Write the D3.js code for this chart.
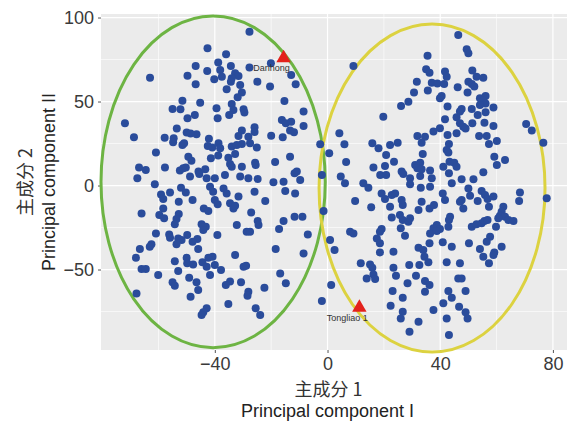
<!DOCTYPE html>
<html>
<head>
<meta charset="utf-8">
<title>PCA</title>
<script src="https://d3js.org/d3.v7.min.js"></script>
<style>
    body { margin: 0; background: #fff; }
    text { font-family: "Liberation Sans", Arial, sans-serif; }
</style>
</head>
<body>
<svg width="574" height="423"></svg>
<script>
// tick values
const xTicks = [-40, 0, 40, 80];
const yTicks = [-50, 0, 50, 100];
const xMinor = [-60, -20, 20, 60];
const yMinor = [-75, -25, 25, 75];

// sample scores [PC1, PC2]
const scores = [
    [-42.6,81.7],[-38.8,73.3],[-46.8,71.2],[-42.7,68.2],[-49.7,65.4],[-63.0,64.2],[-40.2,63.2],[-46.8,60.3],[-51.5,50.5],[-45.2,49.3],
    [-55,45.6],[-52.2,45.4],[-39.4,46],[-49.7,40],[-47.1,42],[-39,40],[-71.9,37],[-53.5,34],[-50,31.5],[-46.5,30.5],
    [-48.6,31],[-68.7,28.7],[-57.8,28.5],[-54.6,28.1],[-54.8,25.7],[-51.5,24.1],[-50.9,25.1],[-42.1,27.9],[-42.5,23.5],[-40.9,22.6],
    [-38.7,25.1],[-38.8,17.8],[-60.9,19.6],[-49.4,17.2],[-48.3,14.8],[-41.4,16.2],[-66.9,10.8],[-64.5,9.3],[-57.7,10.8],[-52.4,8.9],
    [-51.2,10.3],[-50.3,10.8],[-45.8,8.3],[-45.5,6.9],[-43.4,9.7],[-67.5,4.3],[-48.8,5.3],[-42.9,4.3],[-40,4.3],
    [-27.7,91.6],[-36,78.1],[-34.3,71.2],[-38.1,68.8],[-27.7,70.2],[-20.1,72.8],[-32.8,66.8],[-31.6,65.2],[-37.5,64.8],[-34,63.8],
    [-34.3,61.8],[-31,59.9],[-24.9,61.8],[-20.4,58.9],[-12.9,65.8],[-11.3,60.3],[-35.8,57.3],[-30.4,55.3],[-31.9,52.5],[-15.3,50.3],
    [-34,48.5],[-33.4,45],[-29.8,45.4],[-29.5,43.4],[-34.9,42],[-8.5,44],[-16.2,39],[-14.8,37],[-12.9,38],[-8.5,35.5],
    [-13.3,32.7],[-11.9,31.7],[-25.9,34.7],[-25.9,31.9],[-30.4,32.7],[-31.6,29.5],[-28.1,29.1],[-20,29.7],[-15.9,28.7],[-34,23.2],
    [-32.2,24.1],[-30.4,24.7],[-27.5,25.1],[-25.1,22.6],[-38.1,22.2],[-35.2,16.6],[-32.8,18.8],[-34.6,12.8],[-34,11.2],[-30.4,11.2],
    [-25.7,13.6],[-25.5,12.2],[-18.6,14],[-13.3,17.2],[-2.6,24.5],[0.6,19.2],[-36.4,6.3],[-31,5.3],[-28.1,4.3],[-24.8,3.9],
    [-11.7,7.3],[-10.9,8.3],[-2,6.3],
    [9.2,71.2],[35.5,77.3],[35,69.2],[36.2,67.2],[41.7,67.8],[42.3,64.8],[31.7,61.8],[37,61.2],[39,60.8],[41.4,60.5],
    [35.6,56.5],[30.7,55.3],[40.5,53.3],[39.9,51.9],[28.7,49.9],[26.1,47.4],[42.6,47],[19.8,41],[41.7,39.4],[39.9,34.1],
    [37.6,32.1],[31.9,29.5],[34.6,29.1],[42.6,30.1],[4.2,31.1],[6,24.5],[15.9,25.1],[18.1,22.2],[22.2,24.1],[24.9,25.5],
    [33.4,25.5],[20.8,18.2],[33.8,18.8],[6.6,14],[23.6,14.2],[20.4,11.6],[16.3,10.8],[31.1,12.2],[32.9,13.6],[31.9,10.3],
    [33.4,9.7],[41.1,11.2],[43.3,14.2],[26.3,8.3],[26.9,6.9],[36.4,8.9],[18.7,6.3],[20.8,6.3],[4.7,5.3],[32.9,5.7],
    [37,4.3],[29.3,4.3],
    [46.4,89.6],[49.4,81.1],[50,78.7],[51.4,68.4],[52.9,64.8],[55.3,64.2],[46.2,58.5],[50,61.8],[51.2,60.5],[52.1,58.9],
    [49.7,55.3],[54.1,51.9],[56.1,53.3],[55.3,50.5],[56.1,48.9],[54.1,48],[47.6,45.6],[47,44],[51.2,45.6],[58.9,46.4],
    [56.1,43.6],[45.8,40.6],[53.3,42],[47,37],[48.2,35],[49,34],[51.4,37],[55.7,37.4],[58.9,35.5],[70.5,36.6],
    [72.5,32.7],[76.6,25.5],[45.8,31.1],[53.8,29.5],[56.5,29.5],[43.1,24.7],[57.3,24.7],[60.1,26.5],[42.3,21.2],[42.9,19.6],
    [59.2,17.2],[63,15.2],[60.1,12.2],[45,13.6],[45.8,11.2],[55.3,7.9],[43.1,7.3],[47.6,3.7],[51.8,3.7],
    [-61.3,0.7],[-52,-1.3],[-50.3,-4.1],[-55.9,-4.1],[-59.1,-5.3],[-58.3,-8],[-52.8,-9.6],[-47.9,-8.6],[-41.7,-0.7],[-40.6,-3.7],
    [-40,-8.6],[-43.9,-13.6],[-42.3,-15.2],[-58.3,-13.6],[-66,-16.6],[-59.7,-17.6],[-58,-19.5],[-52.8,-17],[-53.6,-19.9],[-54.2,-23.1],
    [-44.7,-23.1],[-43.2,-24.5],[-44.1,-26.5],[-39.1,-29.5],[-60.9,-28.5],[-56.2,-29.1],[-55.9,-31.1],[-49.8,-29.5],[-53,-31.5],[-51.8,-32.4],
    [-53.6,-35],[-62.5,-35],[-63.1,-36.4],[-46.2,-31.8],[-47.9,-33.4],[-45.9,-37.8],[-66.6,-37.8],[-68,-43],[-50,-43],[-40.8,-42.4],
    [-42.3,-43],[-54.2,-45],[-49.8,-46.3],[-47.7,-47],[-44.4,-45.7],[-42.9,-48.3],[-40,-47.3],[-41.7,-53.3],[-66,-49.7],[-64.5,-49.7],
    [-53,-50.9],[-60.1,-53.3],[-49.1,-54.9],[-46.5,-57.6],[-55,-57.6],[-54.2,-59.6],[-45.9,-62.2],[-67.8,-64.2],[-48.6,-66.2],[-42.9,-73.1],
    [-44.1,-75.5],[-44.7,-77.1],
    [-19.2,1.9],[-15.6,2.3],[-9.7,3.3],[-11.5,-4.7],[-15,-3.3],[-22.1,-9.2],[-25.9,-3.7],[-31.6,-6.6],[-36.9,-1.7],[-39,-11.2],
    [-35.8,-4.7],[-34.6,-10.6],[-33.4,-13.6],[-32.8,-12],[-27.1,-16],[-24.8,-21.1],[-24.5,-23.5],[-32.2,-23.5],[-28.7,-27.5],[-27.5,-27.5],
    [-15.6,-21.1],[-17.2,-25.9],[-11.7,-18.6],[-8.9,-18.6],[-7,-29.1],[-18.4,-37.8],[-8.5,-40.4],[-32.8,-41.4],[-29.8,-48.3],[-28.9,-47.7],
    [-37.8,-50.3],[-16.8,-52.3],[-14.8,-58.2],[-34.6,-57.2],[-36.1,-59.2],[-30.7,-57.6],[-28.1,-63.2],[-28.4,-65.6],[-22.4,-60.8],[-35.2,-70.5],
    [-25.5,-73.1],[-23.9,-77.1],[0.9,-32.4],[2.5,-38.4],[1.3,-59.2],[-2,-68.8],[-1.4,-15.2],
    [6.2,1.3],[12.7,1.3],[14.5,-1.3],[9.8,-9.2],[15.5,-13],[19.2,-4.7],[20.4,-8],[22.8,-5.7],[24,-4.7],[22.2,-12.6],
    [26.7,-11.6],[26.3,-8.6],[29.3,0.7],[33.1,-1.3],[33.4,-9.6],[32.3,-14.6],[36.2,-13.6],[36.4,-0.7],[37.8,-11.6],[40.9,-4.7],
    [41.7,-8.6],[22.8,-19.1],[25.7,-17.6],[26.7,-20.5],[28.7,-21.5],[29.3,-19.5],[19.2,-25.9],[18.6,-27.5],[8,-27.5],[9.2,-28.5],
    [26,-25.5],[27.5,-29.9],[38.8,-23.5],[37.6,-25.5],[36.4,-28.5],[39.9,-25.9],[38.8,-27.1],[17.5,-31.5],[18.6,-34.4],[23.4,-39.4],
    [18.6,-39.8],[32.3,-37],[34,-38.4],[36.2,-34.4],[40.9,-33.8],[34.4,-42.4],[35.8,-45.7],[42.3,-45.7],[11.8,-46.3],[15.1,-47],
    [15.9,-48.9],[16.3,-52.9],[13.9,-55.3],[16.9,-55.7],[23.4,-48.9],[24.3,-53.7],[29,-47.3],[32.6,-47.3],[31.4,-53.7],[28.4,-58.2],
    [34.6,-56.8],[36.2,-59.2],[34.6,-63.2],[23.1,-62.8],[26.7,-66.8],[22.4,-71.5],[26.7,-75.1],[26,-79.1],[32.3,-81.1],[37.6,-74.1],
    [41.1,-70.1],[29.1,-87],[42.9,-62.8],[42.3,-79.1],
    [44.1,1.3],[50,-1.7],[50.6,-6.1],[47.6,-8.6],[47,-9.6],[48.2,-13.6],[53.3,-9.2],[54.7,-3.3],[55.9,-5.7],[56.8,-8],
    [58.9,-6.6],[57.3,-12.6],[68.3,-4.1],[68,-9.2],[77.8,-7.6],[62.4,-12.6],[61.8,-15.6],[61.2,-18],[63,-18.6],[64.2,-20.5],
    [66,-21.1],[60.6,-19.5],[43.5,-18.6],[43.1,-20.5],[42.9,-24.5],[51.2,-24.5],[52.9,-23.1],[54.7,-22.5],[55.7,-21.1],[56.8,-20.5],
    [59.8,-24.5],[57.7,-30.5],[56.5,-33.4],[44.1,-36.4],[50.2,-34.4],[54.1,-37.8],[59.2,-39.8],[58.9,-41.4],[55.3,-42.4],[61.8,-36.4],
    [57.3,-46.3],[47,-46.3],[46.4,-55.3],[47.6,-55.3],[49,-62.8],[44.1,-66.8],[46.7,-72.1],[49,-75.5],[49.7,-79.1],[43.1,-89]
];

// marked samples
const markedNames = ["Danhong", "Tongliao 1"];
const markedScores = [[-15.6, 75.8], [11.3, -72.6]];

// cluster ellipses: centre and semi-axes in PC units
const ellipseCentres = [[-40.6, 2.2], [37.1, -1.5]];
const ellipseRadii = [[39.8, 98.7], [40.1, 97.6]];

var svg = d3.select("svg");
var panel = {left: 101, right: 567, top: 14, bottom: 350};

var x = d3.scaleLinear().domain([-80.4, 85]).range([panel.left, panel.right]);
var y = d3.scaleLinear().domain([-97.9, 102.1]).range([panel.bottom, panel.top]);

svg.append("rect")
    .attr("x", panel.left).attr("y", panel.top)
    .attr("width", panel.right - panel.left).attr("height", panel.bottom - panel.top)
    .attr("fill", "#ebebeb");

var grid = svg.append("g").attr("stroke", "#fff");
grid.selectAll(".vminor").data(xMinor).enter().append("line")
    .attr("x1", d => x(d)).attr("x2", d => x(d))
    .attr("y1", panel.top).attr("y2", panel.bottom)
    .attr("stroke-width", 0.6);
grid.selectAll(".hminor").data(yMinor).enter().append("line")
    .attr("y1", d => y(d)).attr("y2", d => y(d))
    .attr("x1", panel.left).attr("x2", panel.right)
    .attr("stroke-width", 0.6);
grid.selectAll(".vmajor").data(xTicks).enter().append("line")
    .attr("x1", d => x(d)).attr("x2", d => x(d))
    .attr("y1", panel.top).attr("y2", panel.bottom)
    .attr("stroke-width", 1.2);
grid.selectAll(".hmajor").data(yTicks).enter().append("line")
    .attr("y1", d => y(d)).attr("y2", d => y(d))
    .attr("x1", panel.left).attr("x2", panel.right)
    .attr("stroke-width", 1.2);

// axes
var xAxis = svg.append("g")
    .attr("transform", "translate(0," + panel.bottom + ")")
    .call(d3.axisBottom(x).tickValues(xTicks).tickSize(3).tickPadding(4).tickFormat(d3.format("d")));
var yAxis = svg.append("g")
    .attr("transform", "translate(" + panel.left + ",0)")
    .call(d3.axisLeft(y).tickValues(yTicks).tickSize(3).tickPadding(4).tickFormat(d3.format("d")));
[xAxis, yAxis].forEach(function (a) {
    a.select(".domain").remove();
    a.selectAll(".tick line").attr("stroke", "#555");
    a.selectAll(".tick text")
        .attr("fill", "#3a3a3a")
        .style("font-size", "18px")
        .style("font-family", "'Liberation Sans', Arial, sans-serif");
});

// ellipses
var ellipseColors = ["#6db443", "#dcd240"];
svg.append("g").selectAll("ellipse")
    .data(ellipseCentres).enter().append("ellipse")
    .attr("cx", d => x(d[0]))
    .attr("cy", d => y(d[1]))
    .attr("rx", (d, i) => x(d[0] + ellipseRadii[i][0]) - x(d[0]))
    .attr("ry", (d, i) => y(d[1]) - y(d[1] + ellipseRadii[i][1]))
    .attr("fill", "none")
    .attr("stroke", (d, i) => ellipseColors[i])
    .attr("stroke-width", 3);

// points
svg.append("g").selectAll("circle")
    .data(scores).enter().append("circle")
    .attr("cx", d => x(d[0]))
    .attr("cy", d => y(d[1]))
    .attr("r", 4)
    .attr("fill", "#2a4c9b");

// marked samples
svg.append("g").selectAll("path")
    .data(markedScores).enter().append("path")
    .attr("d", d3.symbol().type(d3.symbolTriangle).size(90))
    .attr("transform", d => "translate(" + x(d[0]) + "," + y(d[1]) + ")")
    .attr("fill", "#e3221c");

var labelNudge = [[-12, 13], [-12, 14]];
svg.append("g").selectAll("text")
    .data(markedScores).enter().append("text")
    .attr("x", (d, i) => x(d[0]) + labelNudge[i][0])
    .attr("y", (d, i) => y(d[1]) + labelNudge[i][1])
    .attr("text-anchor", "middle")
    .attr("font-size", 9)
    .attr("fill", "#333")
    .text((d, i) => markedNames[i]);

// axis titles
svg.append("text")
    .attr("x", x(0) + 1).attr("y", 396)
    .attr("text-anchor", "middle")
    .attr("font-size", 18).attr("fill", "#333")
    .style("font-family", "'Noto Sans CJK SC', sans-serif")
    .text("主成分 1");
svg.append("text")
    .attr("x", x(0)).attr("y", 417)
    .attr("text-anchor", "middle")
    .attr("font-size", 18).attr("fill", "#222")
    .text("Principal component I");

var cy = (panel.top + panel.bottom) / 2;
svg.append("text")
    .attr("transform", "translate(32," + cy + ") rotate(-90)")
    .attr("text-anchor", "middle")
    .attr("font-size", 18).attr("fill", "#333")
    .style("font-family", "'Noto Sans CJK SC', sans-serif")
    .text("主成分 2");
svg.append("text")
    .attr("transform", "translate(55," + cy + ") rotate(-90)")
    .attr("text-anchor", "middle")
    .attr("font-size", 18).attr("fill", "#222")
    .text("Principal component II");
</script>
</body>
</html>
